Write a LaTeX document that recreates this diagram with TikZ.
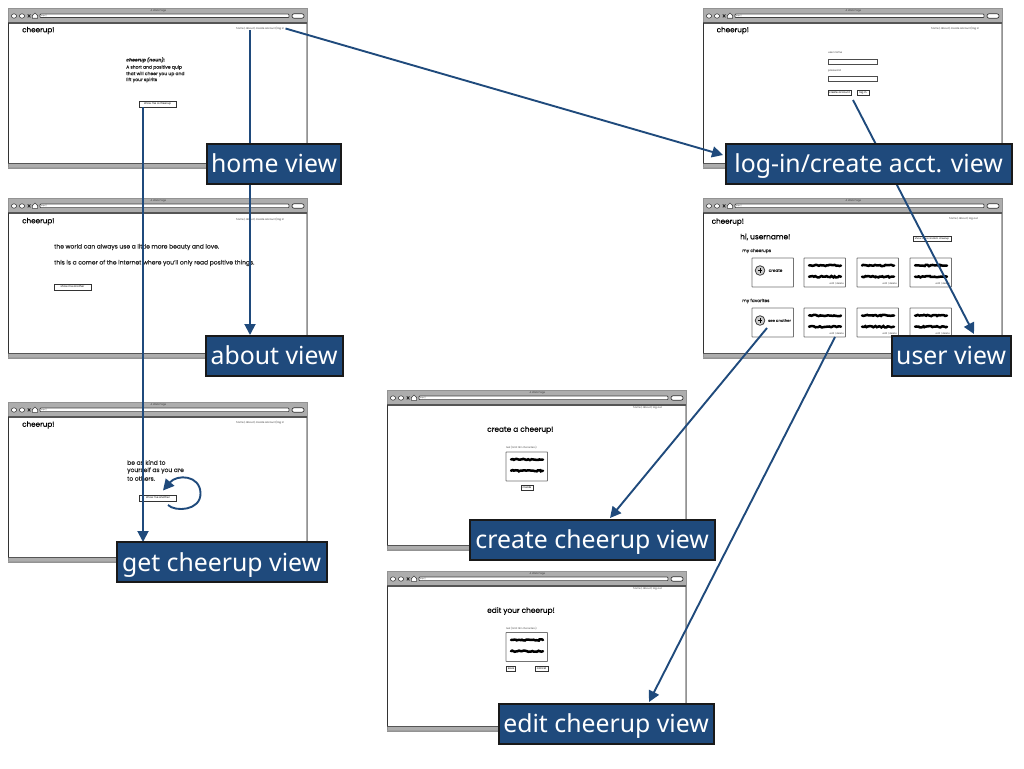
\documentclass[tikz,border=0pt]{standalone}
\usepackage{fontspec}
\setmainfont[FakeBold=0.35]{Poppins}
\newfontfamily\plainfont{Poppins}
\newfontfamily\labelfont{Noto Sans}
\usetikzlibrary{arrows.meta,decorations.pathmorphing,shadows}
\definecolor{navy}{HTML}{1F4A7C}
\definecolor{chrome}{HTML}{ADADAD}
\definecolor{edge}{HTML}{555555}
\tikzset{
  x=1pt,y=-1pt,
  viewlabel/.style={draw=black!90,line width=2.2pt,fill=navy,text=white,inner sep=0pt,anchor=north west,font=\labelfont\fontsize{24.8}{26}\selectfont,text height=29pt,text depth=11pt},
  flow/.style={draw=navy,line width=1.9pt,-{Triangle[length=11pt,width=11pt]}},
  txt/.style={inner sep=0pt,anchor=west,text=black!85,font=\fontsize{#1}{#1}\selectfont},
  txt/.default=5,
  tiny/.style={inner sep=0pt,text=black!75,font=\plainfont\fontsize{2.6}{3}\selectfont},
  btn/.style={draw=black!80,line width=.6pt,fill=white,inner sep=0pt,font=\plainfont\fontsize{2.7}{3}\selectfont,drop shadow={shadow xshift=.7pt,shadow yshift=-.7pt,fill=black!70,opacity=1}},
  field/.style={draw=black!70,line width=.7pt,fill=white},
  card/.style={draw=black!55,line width=.9pt,fill=white,rounded corners=.5pt},
}
% window: x, y, height
\newcommand{\browser}[3]{%
  \begin{scope}[shift={(#1,#2)}]
    \fill[chrome] (0,0) rectangle (299,#3);
    \draw[chrome!85!black,line width=.8pt] (0,0) rectangle (299,#3);
    \fill[white] (1.2,15) rectangle (297.6,{#3-5});
    \draw[edge,line width=1.1pt] (0,15) -- (299,15);
    \draw[black!80,line width=.6pt] (0.6,15) -- (0.6,{#3-5});
    \draw[edge,line width=.7pt] (0,{#3-5}) -- (299,{#3-5});
    \fill[gray!75] (0,{#3-1}) rectangle (299,#3);
    \draw[black!75,line width=.6pt,fill=white] (6,8) ellipse (2.6 and 2.2) (14,8) ellipse (2.6 and 2.2);
    \draw[black!85,line width=.8pt] (19.8,6.4) -- (22.4,9.4) (22.4,6.4) -- (19.8,9.4);
    \draw[black!75,line width=.6pt,fill=white] (27,5) -- (29.6,7.5) -- (29.6,10.3) -- (24.4,10.3) -- (24.4,7.5) -- cycle;
    \draw[black!75,line width=.7pt,fill=white,rounded corners=.8pt] (32,6) rectangle (281,9.6);
    \node[tiny,anchor=west,font=\plainfont\fontsize{1.8}{2}\selectfont] at (33,7.8) {http://};
    \draw[black!80,line width=.7pt,fill=white,rounded corners=2pt] (284,5.8) rectangle (296,10.2);
    \node[tiny] at (150.5,2.4) {A Web Page};
  \end{scope}}
\newcommand{\logo}[2]{\node[txt=7.2,text=black] at (#1,#2) {cheerup!};}
\newcommand{\nav}[3]{\node[tiny,anchor=west] at (#1,#2) {#3};}
% scribble: centre-left x, y
\newcommand{\scribble}[2]{%
  \draw[black,line width=2.5pt,line cap=round,decorate,decoration={random steps,segment length=1.6pt,amplitude=.7pt}] (#1,#2) -- ++(32,0);}
\newcommand{\cheercard}[3]{%
  \draw[card] (#1,#2) rectangle ++(41.5,29);
  \scribble{#1+5}{#2+7.5}
  \scribble{#1+5}{#2+18.7}
  \ifx#3y\node[tiny,anchor=east,font=\plainfont\fontsize{2.4}{3}\selectfont] at (#1+40,#2+25.5) {edit | delete};\fi}
\begin{document}
\begin{tikzpicture}
\pgfmathsetseed{7}
\useasboundingbox (0,0) rectangle (1024,768);
\fill[white] (0,0) rectangle (1024,768);

\browser{8}{8}{160}
\browser{8}{198}{160}
\browser{8}{402}{160}
\browser{703}{8}{160}
\browser{703}{198}{160}
\browser{387}{390}{160}
\browser{387}{571}{160}

% home
\logo{22}{30.5}
\nav{236}{28.3}{home | about | create account/log in}
\node[txt=4.5,font=\bfseries\itshape\fontsize{4.6}{5}\selectfont] at (126,60) {cheerup (noun):};
\node[txt=4.5] at (126,67.5) {A short and positive quip};
\node[txt=4.5] at (126,74) {that will cheer you up and};
\node[txt=4.5] at (126,80) {lift your spirits};
\node[btn,minimum width=37pt,minimum height=6pt] (showcheer) at (157.5,104) {show me a cheerup};

% about
\logo{22}{221.5}
\nav{236}{219.3}{home | about | create account/log in}
\node[txt=6] at (54,247) {the world can always use a little more beauty and love.};
\node[txt=6] at (54,263) {this is a corner of the internet where you'll only read positive things.};
\node[btn,minimum width=37pt,minimum height=6pt] (aboutbtn) at (72.5,287) {show me another};

% get
\logo{22}{425}
\nav{236}{422.3}{home | about | create account/log in}
\node[txt=6] at (127,462.5) {be as kind to};
\node[txt=6] at (127,470.5) {yourself as you are};
\node[txt=6] at (127,478.5) {to others.};
\node[btn,minimum width=37pt,minimum height=6pt] (anotherbtn) at (158,498) {show me another};

% login
\logo{716.5}{30.5}
\nav{931}{28.3}{home | about | create account/log in}
\node[tiny,anchor=west] at (828,53) {user name};
\draw[field] (828,59) rectangle (877.5,64.5);
\node[tiny,anchor=west] at (828,71) {password};
\draw[field] (828,76) rectangle (877.5,81);
\node[btn,minimum width=23pt,minimum height=5pt] (createacct) at (839.5,92.5) {create account};
\node[btn,minimum width=12pt,minimum height=5pt] (loginbtn) at (863,92.5) {log in};

% user
\logo{711.5}{222}
\nav{949}{219.3}{home | about | log out}
\node[txt=7.4,text=black] at (740,237) {hi, username!};
\node[btn,minimum width=38pt,minimum height=5pt,font=\plainfont\fontsize{2.4}{3}\selectfont] (randombtn) at (932,238.7) {show me a random cheerup};
\node[txt=4.4] at (742,251) {my cheerups};
\node[txt=4.4] at (742,301) {my favorites};
\draw[card] (752,258) rectangle ++(41.5,29);
\draw[card] (752,308) rectangle ++(41.5,29);
\foreach \cy in {270.5,320.5}{
  \draw[black!75,line width=.8pt,fill=black!20] (760,\cy) circle (4.8);
  \draw[black,line width=1pt] (757.8,\cy) -- (762.2,\cy) (760,\cy-2.2) -- (760,\cy+2.2);
}
\node[txt=4.2] at (768.5,270.5) {create};
\node[txt=3.8] at (768,320.5) {see another};
\foreach \cx in {804,857,910}{
  \cheercard{\cx}{258}{y}
  \cheercard{\cx}{308}{y}
}

% create
\nav{633}{408.3}{home | about | log out}
\node[txt=7.4,text=black] at (487,430) {create a cheerup!};
\node[tiny,anchor=west,font=\plainfont\fontsize{2.4}{3}\selectfont] at (506,447.5) {text (limit 140 characters)};
\cheercard{506}{452}{n}
\node[btn,minimum width=12pt,minimum height=5pt] (createbtn) at (527,487.3) {create};

% edit
\nav{633}{589.3}{home | about | log out}
\node[txt=7.4,text=black] at (487,611) {edit your cheerup!};
\node[tiny,anchor=west,font=\plainfont\fontsize{2.4}{3}\selectfont] at (506,628.5) {text (limit 140 characters)};
\cheercard{506}{632.5}{n}
\node[btn,minimum width=9pt,minimum height=5pt] (savebtn) at (511,669) {save};
\node[btn,minimum width=13pt,minimum height=5pt] (cancelbtn) at (541.5,669) {cancel};

% connector ends
\coordinate (fromlogin) at (285.5,28.5);
\coordinate (fromabout) at (250,30);
\coordinate (fromshow) at (143,107);
\coordinate (fromcreate) at (853,100);
\coordinate (fromsee) at (767,328);
\coordinate (fromedit) at (835,337);
\coordinate (toabout) at (250,335);
\coordinate (toget) at (143,542);
\coordinate (tologin) at (723,155);
\coordinate (touser) at (974,334);
\coordinate (tocreate) at (610,518);
\coordinate (toedit) at (649,702);

\draw[flow] (fromabout) -- (toabout);
\draw[flow] (fromshow) -- (toget);
\draw[flow] (fromlogin) -- (tologin);
\draw[flow] (fromcreate) -- (touser);
\draw[flow] (fromsee) -- (tocreate);
\draw[flow] (fromedit) -- (toedit);
\coordinate (loopstart) at (168,505);
\coordinate (looptip) at (163,490.5);
\draw[flow] (loopstart) .. controls (175,512) and (201,511) .. (200.5,493) .. controls (200,475) and (177,474) .. (looptip);

% labels
\node[viewlabel,minimum width=134pt] (home) at (206,142.5) {home view};
\node[viewlabel,minimum width=137pt] (about) at (204.5,334.5) {about view};
\node[viewlabel,minimum width=210pt] (get) at (115.5,541) {get cheerup view};
\node[viewlabel,minimum width=286pt] (login) at (724.5,142.5) {log-in/create acct. view};
\node[viewlabel,minimum width=119pt] (user) at (890.5,334.5) {user view};
\node[viewlabel,minimum width=245pt] (create) at (468.5,518.5) {create cheerup view};
\node[viewlabel,minimum width=215pt] (edit) at (497.5,702.5) {edit cheerup view};
\end{tikzpicture}
\end{document}
